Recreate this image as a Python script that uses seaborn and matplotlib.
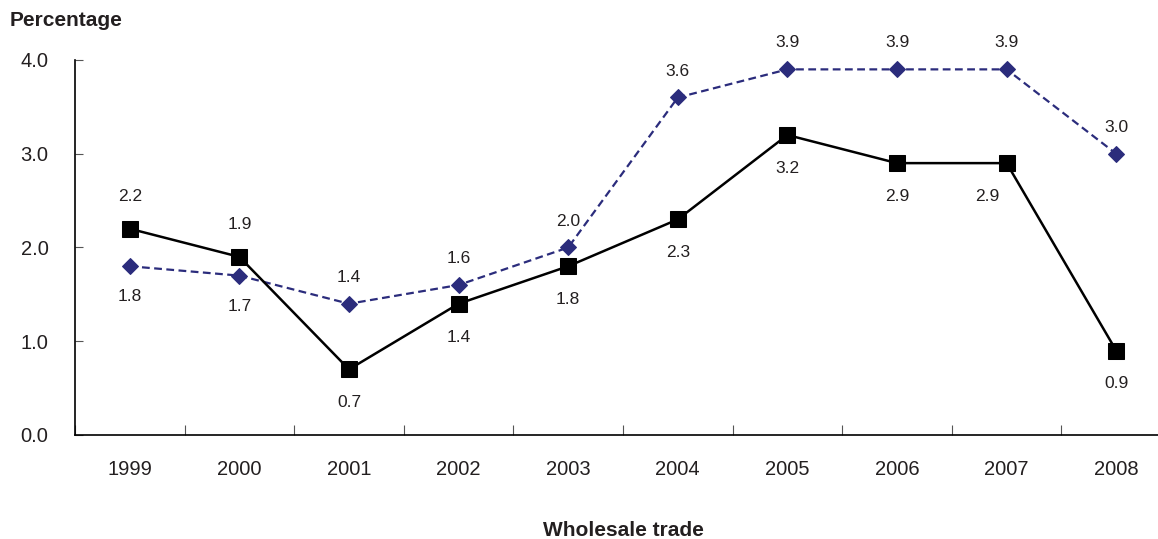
import numpy as np
import pandas as pd
import matplotlib
matplotlib.use("Agg")
import matplotlib.pyplot as plt
import seaborn as sns

# Data
years = ["1999", "2000", "2001", "2002", "2003", "2004", "2005", "2006", "2007", "2008"]
solid_values = [2.2, 1.9, 0.7, 1.4, 1.8, 2.3, 3.2, 2.9, 2.9, 0.9]
dashed_values = [1.8, 1.7, 1.4, 1.6, 2.0, 3.6, 3.9, 3.9, 3.9, 3.0]
y_ticks = [0.0, 1.0, 2.0, 3.0, 4.0]

# label placement (a = above, b = below, bl = below-left)
solid_place = ["a", "a", "b", "b", "b", "b", "b", "b", "bl", "b"]
dashed_place = ["b", "b", "a", "a", "a", "a", "a", "a", "a", "a"]

sns.set_style("white")
plt.rcParams["font.family"] = ["Liberation Sans", "DejaVu Sans"]

text_col = "#231F20"
navy = "#2B2C7C"

pos = np.arange(len(years))
df = pd.DataFrame({"pos": pos, "solid": solid_values, "dashed": dashed_values})

fig = plt.figure(figsize=(11.58, 5.39), dpi=100)
ax = fig.add_axes([75 / 1158, 1 - 435 / 539, 1096 / 1158, 375 / 539])

sns.lineplot(data=df, x="pos", y="dashed", ax=ax, color=navy, lw=1.6,
             marker="D", markersize=8.5, markeredgecolor=navy, zorder=3)
ax.lines[-1].set_linestyle((0, (3.5, 2.0)))
sns.lineplot(data=df, x="pos", y="solid", ax=ax, color="black", lw=1.8,
             marker="s", markersize=11.5, markeredgecolor="black", zorder=4)

offsets = {"a": (0, 23), "b": (0, -24), "bl": (-14, -24)}
for x, v, p in zip(pos, solid_values, solid_place):
    ax.annotate(f"{v:.1f}", (x, v), xytext=offsets[p], textcoords="offset points",
                ha="center", va="center", fontsize=12.5, color=text_col)
off_d = {"a": (0, 19), "b": (0, -22)}
for x, v, p in zip(pos, dashed_values, dashed_place):
    ax.annotate(f"{v:.1f}", (x, v), xytext=off_d[p], textcoords="offset points",
                ha="center", va="center", fontsize=12.5, color=text_col)

ax.set_xlim(-0.5, len(years) - 0.5)
ax.set_ylim(0, 4)
ax.set_yticks(y_ticks)
ax.set_yticklabels([f"{t:.1f}" for t in y_ticks], fontsize=14.5, color=text_col)
ax.set_xticks(pos)
ax.set_xticklabels(years, fontsize=14.5, color=text_col)
ax.set_xticks(np.arange(-0.5, len(years) + 0.5, 1), minor=True)
ax.tick_params(axis="x", which="major", bottom=False, length=0, pad=18)
ax.tick_params(axis="x", which="minor", bottom=True, direction="in", length=7,
               width=0.8, color="#555555")
ax.tick_params(axis="y", left=True, direction="in", length=6, width=0.8,
               color="#555555", pad=19)

for s in ["top", "right"]:
    ax.spines[s].set_visible(False)
for s in ["left", "bottom"]:
    ax.spines[s].set_color("black")
    ax.spines[s].set_linewidth(1.2)

ax.set_xlabel("Wholesale trade", fontsize=15, fontweight="bold", color=text_col, labelpad=30)
ax.set_ylabel("")
fig.text(10 / 1158, 1 - 20 / 539, "Percentage", fontsize=15, fontweight="bold",
         color=text_col, ha="left", va="center")

fig.savefig("out.png", dpi=100)
